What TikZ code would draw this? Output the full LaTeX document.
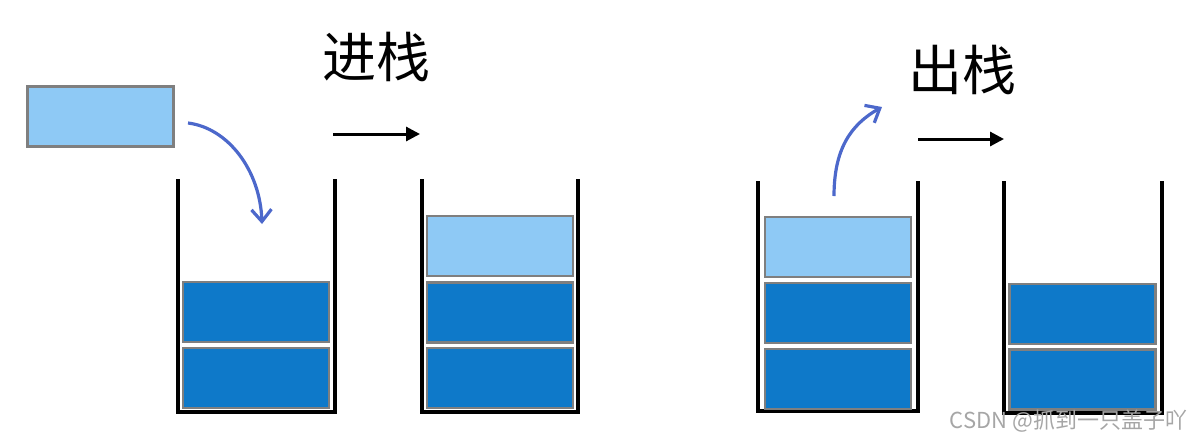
\documentclass[tikz,border=0pt]{standalone}
\usepackage{fontspec}
\setmainfont{Noto Sans CJK SC}
\usepackage{tikz}
\usetikzlibrary{arrows.meta,positioning}
\definecolor{blocklight}{HTML}{8EC9F5}
\definecolor{blockdark}{HTML}{0E79C9}
\definecolor{blockedge}{HTML}{7F7F7F}
\definecolor{curveblue}{HTML}{4C68CB}
\definecolor{markgray}{HTML}{A6A6A6}

\begin{document}
\begin{tikzpicture}[
  x=0.5pt, y=-0.5pt,
  every node/.style={inner sep=0pt, outer sep=0pt},
  blk/.style={draw=blockedge, line width=1.3pt, minimum width=73pt, minimum height=30pt},
  light/.style={blk, fill=blocklight},
  dark/.style={blk, fill=blockdark},
  wall/.style={line width=1.8pt, line cap=rect},
  curve/.style={curveblue, line width=1.6pt, -{Straight Barb[length=6pt, width=10pt, line width=1.6pt]}},
  arr/.style={line width=1.5pt, -{Triangle[length=7pt, width=7pt]}},
  title/.style={font=\fontsize{27}{30}\selectfont},
]
  \useasboundingbox (0,0) rectangle (1202,440);

  % Containers
  \draw[wall] (178,181) -- (178,412) -- (335,412) -- (335,181);
  \draw[wall] (422,181) -- (422,412) -- (578,412) -- (578,181);
  \draw[wall] (758,183) -- (758,411) -- (918,411) -- (918,183);
  \draw[wall] (1004,183) -- (1004,413) -- (1162,413) -- (1162,183);

  % Push: before
  \node[light] (new) at (100.5,116.5) {};
  \node[dark] (a1) at (256,312) {};
  \node[dark] (a2) at (256,378) {};

  % Push: after
  \node[light] (b0) at (500,246) {};
  \node[dark] (b1) at (500,312.5) {};
  \node[dark] (b2) at (500,378) {};

  % Pop: before
  \node[light] (c0) at (838,247) {};
  \node[dark] (c1) at (838,313) {};
  \node[dark] (c2) at (838,379) {};

  % Pop: after
  \node[dark] (d1) at (1082.5,314) {};
  \node[dark] (d2) at (1082.5,379.5) {};

  % Titles
  \node[title] (push) at (376,57) {进栈};
  \node[title] (pop) at (962,70) {出栈};

  % Arrows
  \coordinate (ps) at (333,134);
  \coordinate (pe) at (420,134);
  \coordinate (qs) at (918,139);
  \coordinate (qe) at (1004,139);
  \draw[arr] (ps) -- (pe);
  \draw[arr] (qs) -- (qe);

  \coordinate (in1) at (188,123);
  \coordinate (in2) at (262,224);
  \coordinate (out1) at (834,196);
  \coordinate (out2) at (882,107);
  \draw[curve] (in1) .. controls (228,128) and (260,170) .. (in2);
  \draw[curve] (out1) .. controls (834,150) and (850,125) .. (out2);

  % Watermark
  \node[markgray, font=\fontsize{11}{12}\selectfont, anchor=east] (mark) at (1187,421) {CSDN @抓到一只盖子吖};
\end{tikzpicture}
\end{document}
